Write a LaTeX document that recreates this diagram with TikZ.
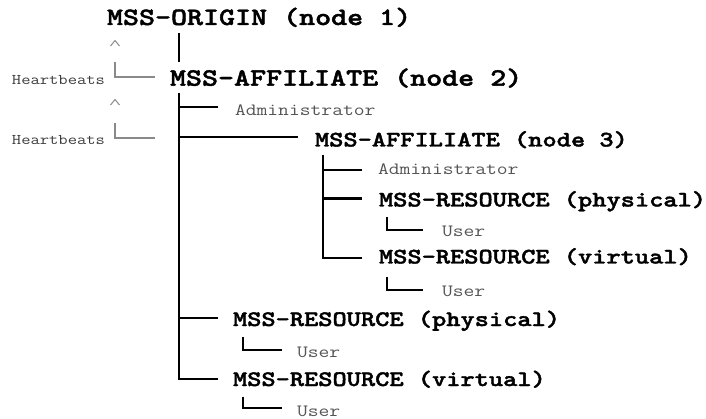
\documentclass[tikz,border=0pt]{standalone}
\usepackage{graphicx}
\usepackage{fontspec}
% heavier slab-serif mono for the node names
\newfontfamily\heavytt{lmmonolt10-bold.otf}[FakeBold=1.6]
\definecolor{leafgray}{HTML}{555555}
\definecolor{beatgray}{HTML}{3C3C3C}
\definecolor{wiregray}{HTML}{8A8A8A}
% widen the typewriter face so it runs like a Courier-style mono
\newcommand{\stretchtt}[1]{\scalebox{1.22}[1]{#1}}
\tikzset{
  txt/.style={anchor=base west, inner sep=0pt, outer sep=0pt},
  bigname/.style={txt, font=\fontsize{25}{25}\selectfont\heavytt},
  midname/.style={txt, font=\fontsize{22.2}{22.2}\selectfont\heavytt},
  leaf/.style={txt, text=leafgray, font=\fontsize{17.2}{17.2}\selectfont\ttfamily},
  beatlabel/.style={txt, text=beatgray, font=\fontsize{14.8}{14.8}\selectfont\ttfamily},
  wire/.style={line width=2.2pt, draw=black},
  beatwire/.style={line width=2.2pt, draw=wiregray},
  caret/.style={line width=1pt, draw=wiregray},
}
\begin{document}
\begin{tikzpicture}[x=1pt, y=-1pt]
\useasboundingbox (0,0) rectangle (706,419);

% ---- node labels ----
\node[bigname] (origin) at (107,25)    {\stretchtt{MSS-ORIGIN (node 1)}};
\node[bigname] (aff2)   at (170,85.7)  {\stretchtt{MSS-AFFILIATE (node 2)}};
\node[leaf]    (adm2)   at (235,115.5) {\stretchtt{Administrator}};
\node[midname] (aff3)   at (315,146.5) {\stretchtt{MSS-AFFILIATE (node 3)}};
\node[leaf]    (adm3)   at (378,175)   {\stretchtt{Administrator}};
\node[midname] (res3p)  at (379,206.5) {\stretchtt{MSS-RESOURCE (physical)}};
\node[leaf]    (usr3p)  at (442,236.7) {\stretchtt{User}};
\node[midname] (res3v)  at (379,263.5) {\stretchtt{MSS-RESOURCE (virtual)}};
\node[leaf]    (usr3v)  at (442,296.7) {\stretchtt{User}};
\node[midname] (res2p)  at (233,326)   {\stretchtt{MSS-RESOURCE (physical)}};
\node[leaf]    (usr2p)  at (297,357)   {\stretchtt{User}};
\node[midname] (res2v)  at (233,386)   {\stretchtt{MSS-RESOURCE (virtual)}};
\node[leaf]    (usr2v)  at (297,416.5) {\stretchtt{User}};
\node[beatlabel] (hb1)  at (12,85)     {\stretchtt{Heartbeats}};
\node[beatlabel] (hb2)  at (12,145)    {\stretchtt{Heartbeats}};

% ---- origin to affiliate ----
\coordinate (t1a) at (179,33.3);
\coordinate (t1b) at (179,61.7);
\draw[wire] (t1a) -- (t1b);

% ---- children of node 2 ----
\coordinate (t2top) at (179,93.3);
\coordinate (b2a) at (218,107.3);
\coordinate (b2n) at (298,137.3);
\coordinate (b2p) at (218,318.3);
\coordinate (b2v) at (218,379);
\draw[wire] (t2top) |- (b2v);
\foreach \e in {b2a,b2n,b2p} \draw[wire] (t2top |- \e) -- (\e);

% ---- children of node 3 ----
\coordinate (t3top) at (323,155);
\coordinate (b3a) at (362,170);
\coordinate (b3p) at (362,198.5);
\coordinate (b3v) at (362,258.3);
\draw[wire] (t3top) |- (b3v);
\foreach \e in {b3a,b3p} \draw[wire] (t3top |- \e) -- (\e);

% ---- user hooks under resources ----
\coordinate (u3pt) at (387,217.5); \coordinate (u3pe) at (423,229.7);
\coordinate (u3vt) at (387,277.5); \coordinate (u3ve) at (423,289.7);
\coordinate (u2pt) at (243,337.3); \coordinate (u2pe) at (282,350);
\coordinate (u2vt) at (243,396.7); \coordinate (u2ve) at (282,408.3);
\draw[wire] (u3pt) |- (u3pe);
\draw[wire] (u3vt) |- (u3ve);
\draw[wire] (u2pt) |- (u2pe);
\draw[wire] (u2vt) |- (u2ve);

% ---- heartbeat returns ----
\coordinate (h1t) at (115,62);    \coordinate (h1e) at (155,77);
\coordinate (h2t) at (115,123.3); \coordinate (h2e) at (155,138);
\draw[beatwire] (h1t) |- (h1e);
\draw[beatwire] (h2t) |- (h2e);
\coordinate (c1) at (115,40.5);
\coordinate (c2) at (115,99.5);
\draw[caret] (c1) ++(-4.5,5.5) -- ++(4.5,-5.5) -- ++(4.5,5.5);
\draw[caret] (c2) ++(-4.5,5.5) -- ++(4.5,-5.5) -- ++(4.5,5.5);
\end{tikzpicture}
\end{document}
